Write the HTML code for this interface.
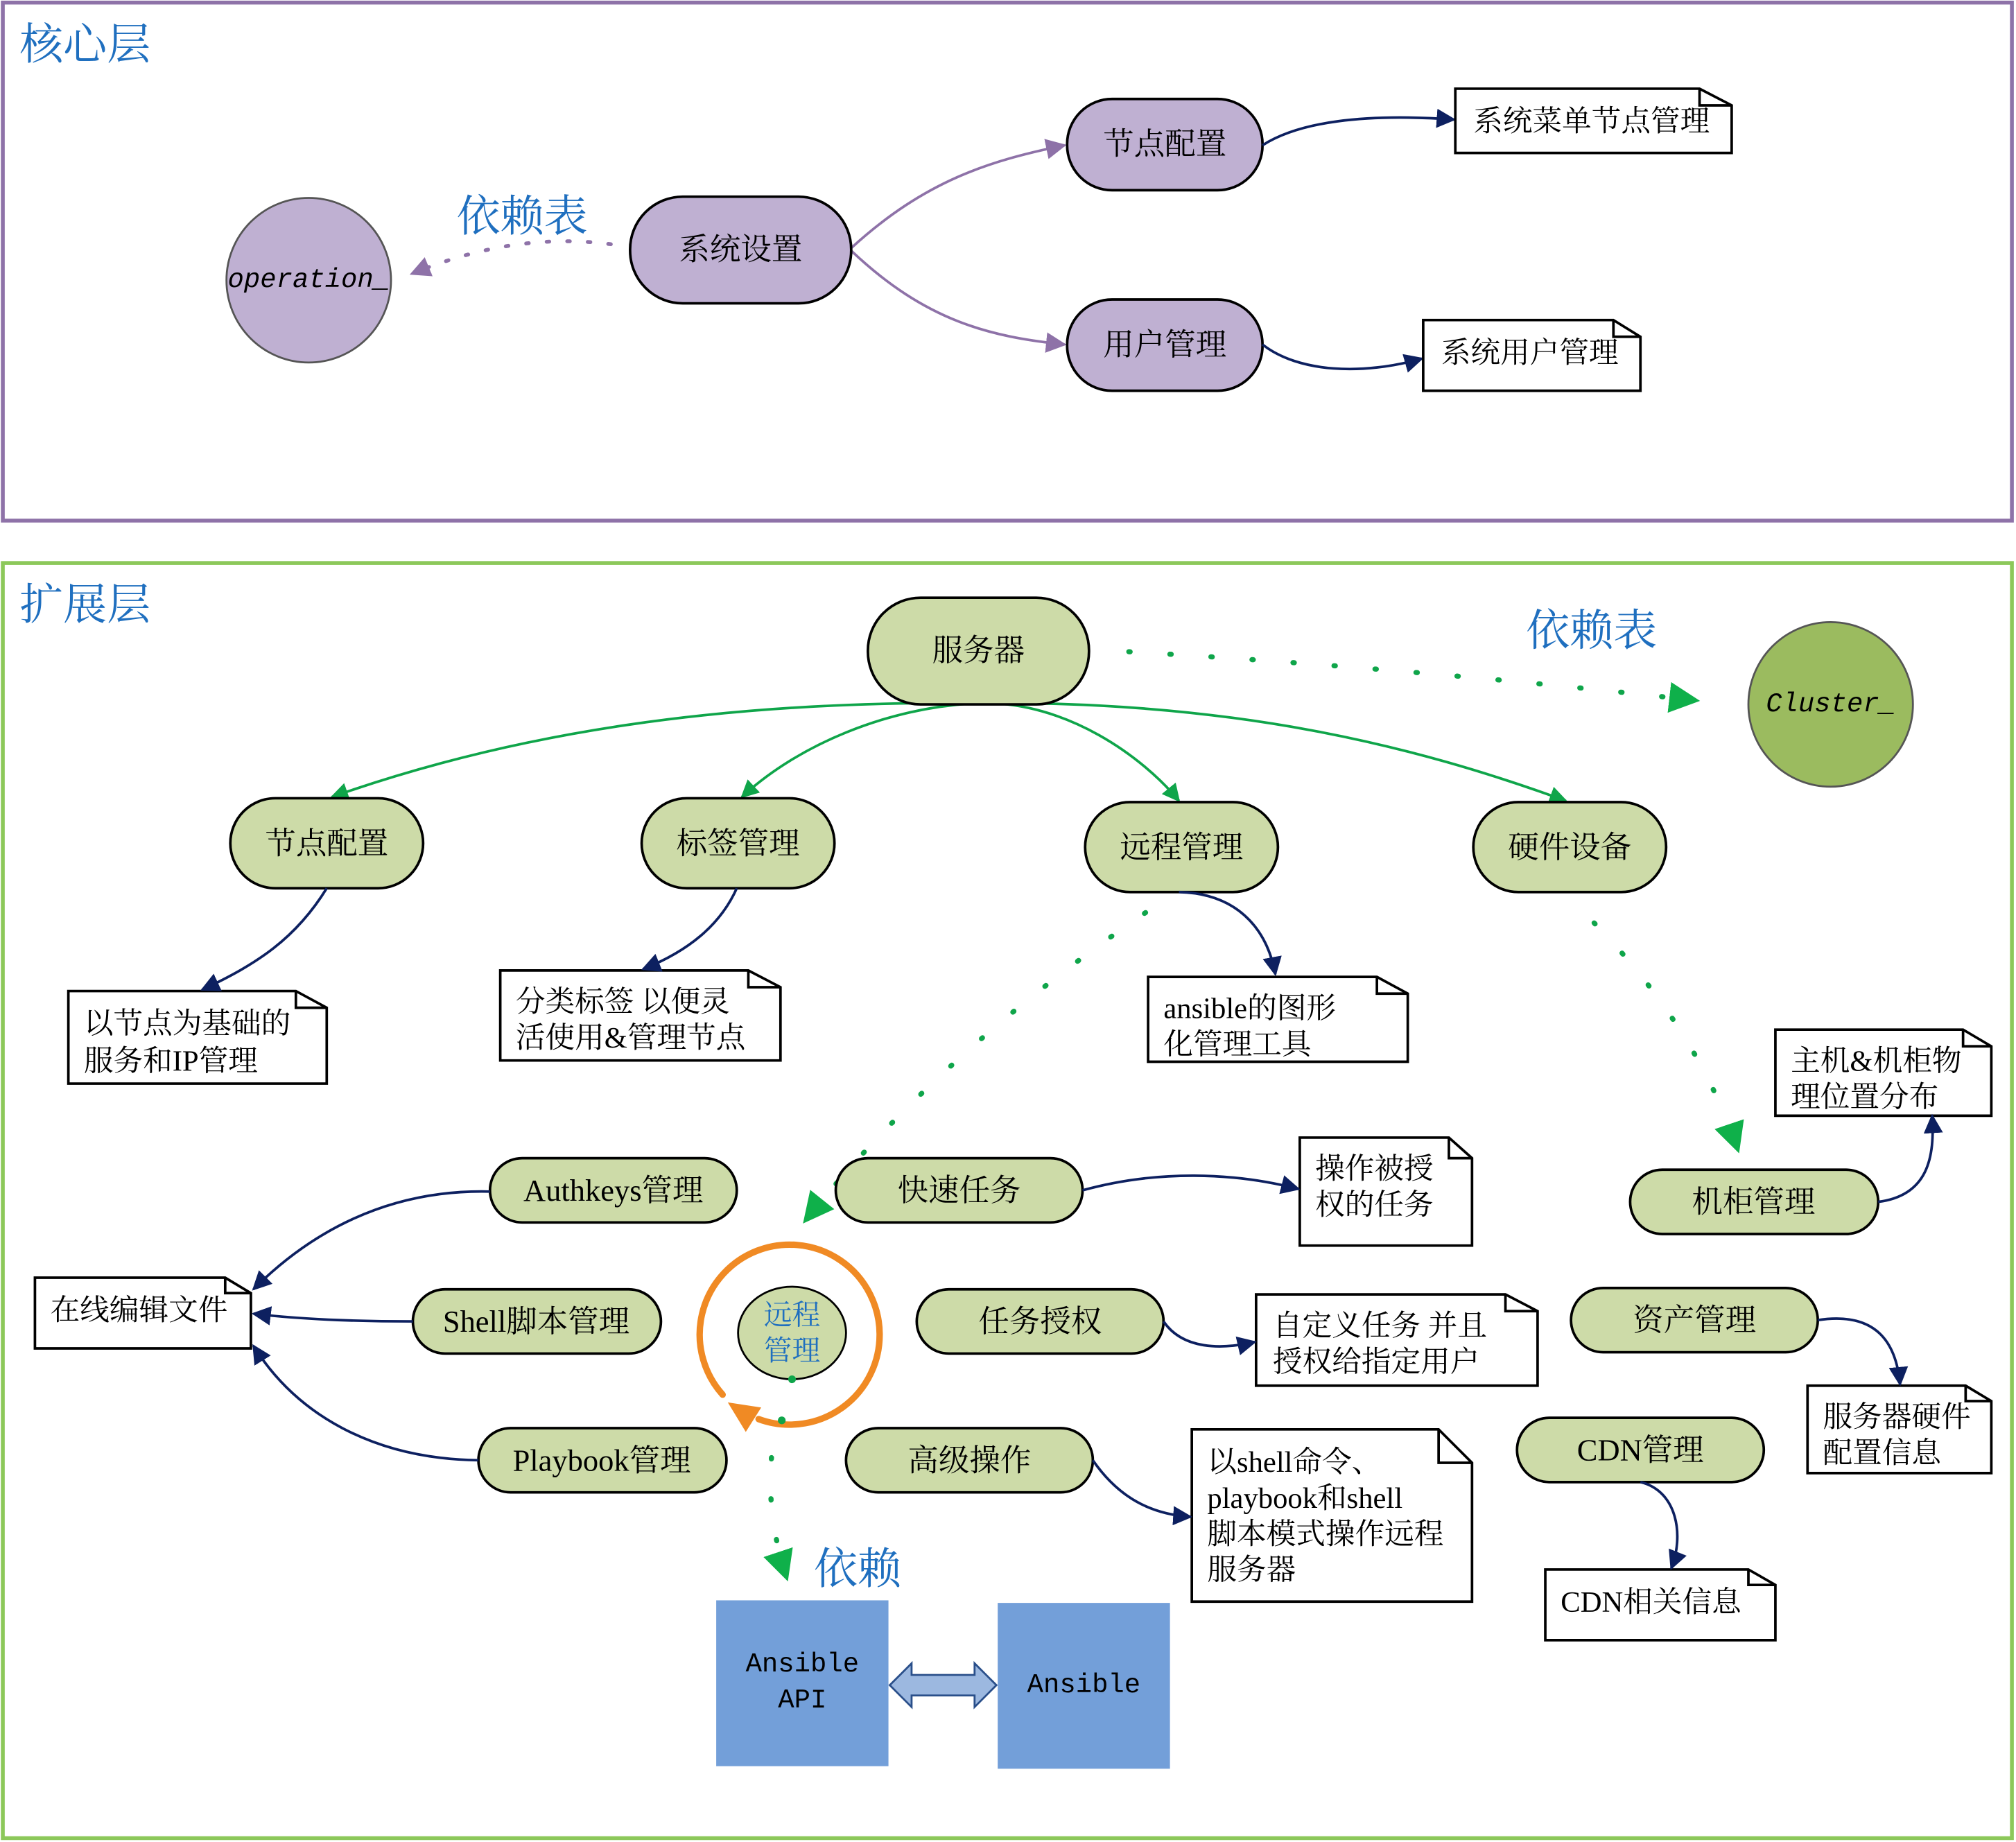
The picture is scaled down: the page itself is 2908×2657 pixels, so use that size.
<!DOCTYPE html>
<html><head><meta charset="utf-8">
<style>
html,body{margin:0;padding:0;background:#fff;}
svg{display:block;}
text{font-family:"Liberation Serif","Noto Serif CJK SC",serif;}
.t{font-size:24px;fill:#000;text-anchor:middle;dominant-baseline:central;}
.n{font-size:23px;fill:#000;}
.b{fill:#1f6fbf;font-size:34px;}
</style></head><body>
<svg width="2908" height="2657" viewBox="0 0 1568 1433" xmlns="http://www.w3.org/2000/svg">
<defs>
<marker id="nv" viewBox="0 0 10 10" refX="9" refY="5" markerWidth="15" markerHeight="15" markerUnits="userSpaceOnUse" orient="auto"><path d="M0,0 L10,5 L0,10 z" fill="#0d2060"/></marker>
<marker id="pu" viewBox="0 0 10 10" refX="9" refY="5" markerWidth="16" markerHeight="16" markerUnits="userSpaceOnUse" orient="auto"><path d="M0,0 L10,5 L0,10 z" fill="#8e72a8"/></marker>
<marker id="gr" viewBox="0 0 10 10" refX="9" refY="5" markerWidth="14" markerHeight="14" markerUnits="userSpaceOnUse" orient="auto"><path d="M0,0 L10,5 L0,10 z" fill="#0fa54a"/></marker>
<marker id="gb" viewBox="0 0 10 10" refX="9" refY="5" markerWidth="24" markerHeight="24" markerUnits="userSpaceOnUse" orient="auto"><path d="M0,0 L10,5 L0,10 z" fill="#0fb04a"/></marker>
</defs>
<g fill="none">
<rect x="2" y="2" width="1563" height="403" stroke="#8e72a8" stroke-width="3"/>
<rect x="2" y="438" width="1563" height="992" stroke="#8cc85a" stroke-width="3"/>
</g>
<text x="15" y="46" class="b">核心层</text>
<text x="15" y="482" class="b">扩展层</text>

<!-- core -->
<circle cx="240" cy="218" r="64" fill="#bfb0d2" stroke="#555" stroke-width="1.5"/>
<text x="240" y="218" class="t" style="font-style:italic;font-family:'Liberation Mono',monospace;font-size:21px">operation_</text>
<text x="355" y="180" class="b">依赖表</text>
<path d="M475,190 Q400,180 320,213" fill="none" stroke="#8e72a8" stroke-width="3" stroke-dasharray="2,14" stroke-linecap="round" marker-end="url(#pu)"/>
<g fill="none" stroke="#8e72a8" stroke-width="2">
<path d="M662,193 C720,140 770,125 828,113" marker-end="url(#pu)"/>
<path d="M662,195 C720,250 770,262 828,268" marker-end="url(#pu)"/>
</g>
<g fill="#bfb0d2" stroke="#000" stroke-width="2">
<rect x="490" y="153" width="172" height="83" rx="41"/>
<rect x="830" y="77" width="152" height="71" rx="35"/>
<rect x="830" y="233" width="152" height="71" rx="35"/>
</g>
<text x="576" y="194" class="t">系统设置</text>
<text x="906" y="112" class="t">节点配置</text>
<text x="906" y="268" class="t">用户管理</text>
<g fill="none" stroke="#0d2060" stroke-width="2">
<path d="M982,113 C1010,95 1060,88 1131,93" marker-end="url(#nv)"/>
<path d="M982,268 C1010,290 1060,292 1106,279" marker-end="url(#nv)"/>
</g>

<!-- notes -->
<g fill="#fff" stroke="#000" stroke-width="2">
<path d="M1132,69 H1322 L1347,82 V119 H1132 Z"/><path d="M1322,69 V82 H1347" fill="none"/>
<path d="M1107,249 H1255 L1276,262 V304 H1107 Z"/><path d="M1255,249 V262 H1276" fill="none"/>
<path d="M53,771 H230 L254,784 V843 H53 Z"/><path d="M230,771 V784 H254" fill="none"/>
<path d="M389,755 H582 L607,768 V825 H389 Z"/><path d="M582,755 V768 H607" fill="none"/>
<path d="M893,760 H1071 L1095,773 V826 H893 Z"/><path d="M1071,760 V773 H1095" fill="none"/>
<path d="M1381,801 H1527 L1549,814 V868 H1381 Z"/><path d="M1527,801 V814 H1549" fill="none"/>
<path d="M1011,885 H1127 L1145,901 V969 H1011 Z"/><path d="M1127,885 V901 H1145" fill="none"/>
<path d="M977,1007 H1171 L1196,1020 V1078 H977 Z"/><path d="M1171,1007 V1020 H1196" fill="none"/>
<path d="M927,1112 H1119 L1145,1138 V1246 H927 Z"/><path d="M1119,1112 V1138 H1145" fill="none"/>
<path d="M27,994 H175 L195,1006 V1049 H27 Z"/><path d="M175,994 V1006 H195" fill="none"/>
<path d="M1406,1078 H1529 L1549,1090 V1146 H1406 Z"/><path d="M1529,1078 V1090 H1549" fill="none"/>
<path d="M1202,1221 H1360 L1381,1233 V1276 H1202 Z"/><path d="M1360,1221 V1233 H1381" fill="none"/>
</g>
<text x="1146" y="102" class="n">系统菜单节点管理</text>
<text x="1121" y="282" class="n">系统用户管理</text>
<text x="65" y="804" class="n">以节点为基础的</text><text x="65" y="833" class="n">服务和IP管理</text>
<text x="401" y="787" class="n" xml:space="preserve">分类标签 以便灵</text><text x="401" y="815" class="n">活使用&amp;管理节点</text>
<text x="905" y="792" class="n">ansible的图形</text><text x="905" y="820" class="n">化管理工具</text>
<text x="1393" y="833" class="n">主机&amp;机柜物</text><text x="1393" y="861" class="n">理位置分布</text>
<text x="1023" y="917" class="n">操作被授</text><text x="1023" y="945" class="n">权的任务</text>
<text x="990" y="1039" class="n" xml:space="preserve">自定义任务 并且</text><text x="990" y="1067" class="n">授权给指定用户</text>
<text x="939" y="1145" class="n">以shell命令、</text><text x="939" y="1173" class="n">playbook和shell</text><text x="939" y="1201" class="n">脚本模式操作远程</text><text x="939" y="1229" class="n">服务器</text>
<text x="39" y="1027" class="n">在线编辑文件</text>
<text x="1418" y="1110" class="n">服务器硬件</text><text x="1418" y="1138" class="n">配置信息</text>
<text x="1214" y="1254" class="n">CDN相关信息</text>

<!-- extension -->
<circle cx="1424" cy="548" r="64" fill="#9bbb5f" stroke="#555" stroke-width="1.5"/>
<text x="1424" y="548" class="t" style="font-style:italic;font-family:'Liberation Mono',monospace;font-size:21px">Cluster_</text>
<text x="1187" y="502" class="b">依赖表</text>
<g fill="none" stroke="#0fa54a" stroke-width="4" stroke-dasharray="1,31" stroke-linecap="round">
<path d="M878,507 Q1100,520 1320,545" marker-end="url(#gb)"/>
<path d="M891,710 Q730,820 626,950" marker-end="url(#gb)"/>
<path d="M1240,718 Q1320,800 1352,895" marker-end="url(#gb)"/>
<path d="M600,1134 Q596,1180 612,1228" marker-end="url(#gb)"/>
</g>
<g fill="none" stroke="#0fa54a" stroke-width="2">
<path d="M761,547 C560,545 400,570 258,620" marker-end="url(#gr)"/>
<path d="M761,547 C690,550 620,580 577,620" marker-end="url(#gr)"/>
<path d="M761,547 C830,545 890,590 917,623" marker-end="url(#gr)"/>
<path d="M761,547 C960,545 1100,580 1218,623" marker-end="url(#gr)"/>
</g>
<g fill="#cddba8" stroke="#000" stroke-width="2">
<rect x="675" y="465" width="172" height="83" rx="41"/>
<rect x="179" y="621" width="150" height="70" rx="35"/>
<rect x="499" y="621" width="150" height="70" rx="35"/>
<rect x="844" y="624" width="150" height="70" rx="35"/>
<rect x="1146" y="624" width="150" height="70" rx="35"/>
<rect x="1268" y="910" width="193" height="50" rx="25"/>
<rect x="381" y="901" width="192" height="50" rx="25"/>
<rect x="321" y="1003" width="193" height="50" rx="25"/>
<rect x="372" y="1111" width="193" height="50" rx="25"/>
<rect x="650" y="901" width="192" height="50" rx="25"/>
<rect x="713" y="1003" width="192" height="50" rx="25"/>
<rect x="658" y="1111" width="192" height="50" rx="25"/>
<rect x="1222" y="1002" width="192" height="50" rx="25"/>
<rect x="1180" y="1103" width="192" height="50" rx="25"/>
</g>
<text x="761" y="506" class="t">服务器</text>
<text x="254" y="656" class="t">节点配置</text>
<text x="574" y="656" class="t">标签管理</text>
<text x="919" y="659" class="t">远程管理</text>
<text x="1221" y="659" class="t">硬件设备</text>
<text x="1364" y="935" class="t">机柜管理</text>
<text x="477" y="926" class="t">Authkeys管理</text>
<text x="417" y="1028" class="t">Shell脚本管理</text>
<text x="468" y="1136" class="t">Playbook管理</text>
<text x="746" y="926" class="t">快速任务</text>
<text x="809" y="1028" class="t">任务授权</text>
<text x="754" y="1136" class="t">高级操作</text>
<text x="1318" y="1027" class="t">资产管理</text>
<text x="1276" y="1128" class="t">CDN管理</text>

<g fill="none" stroke="#0d2060" stroke-width="2">
<path d="M254,691 C230,730 200,750 157,770" marker-end="url(#nv)"/>
<path d="M573,691 C560,720 535,740 500,754" marker-end="url(#nv)"/>
<path d="M917,694 C960,695 985,720 992,758" marker-end="url(#nv)"/>
<path d="M1461,935 C1500,930 1505,900 1503,868" marker-end="url(#nv)"/>
<path d="M381,927 C300,925 240,960 197,1003" marker-end="url(#nv)"/>
<path d="M321,1028 C270,1028 230,1026 197,1022" marker-end="url(#nv)"/>
<path d="M372,1136 C290,1135 230,1100 197,1047" marker-end="url(#nv)"/>
<path d="M842,926 C900,910 960,912 1010,925" marker-end="url(#nv)"/>
<path d="M905,1028 C920,1050 950,1050 976,1044" marker-end="url(#nv)"/>
<path d="M850,1136 C870,1165 895,1178 926,1180" marker-end="url(#nv)"/>
<path d="M1414,1027 C1460,1020 1475,1045 1478,1077" marker-end="url(#nv)"/>
<path d="M1276,1153 C1305,1160 1310,1195 1300,1220" marker-end="url(#nv)"/>
</g>

<path d="M562,1085 A70,70 0 1 1 590,1104" fill="none" stroke="#f08a24" stroke-width="5" stroke-linecap="round"/>
<path d="M566,1091 L592,1095 L580,1114 Z" fill="#f08a24"/>
<ellipse cx="616" cy="1037" rx="42" ry="36" fill="#cddba8" stroke="#000" stroke-width="1.5"/>
<text x="616" y="1023" class="t" style="fill:#1f6fbf;font-size:22px">远程</text>
<text x="616" y="1051" class="t" style="fill:#1f6fbf;font-size:22px">管理</text>
<circle cx="616" cy="1073" r="3" fill="#0fa54a"/>
<circle cx="608" cy="1105" r="3" fill="#0fa54a"/>
<text x="633" y="1232" class="b">依赖</text>

<rect x="557" y="1245" width="134" height="129" fill="#739fd9"/>
<rect x="776" y="1247" width="134" height="129" fill="#739fd9"/>
<text x="624" y="1295" class="t" style="font-family:'Liberation Mono',monospace;font-size:21px">Ansible</text>
<text x="624" y="1323" class="t" style="font-family:'Liberation Mono',monospace;font-size:21px">API</text>
<text x="843" y="1311" class="t" style="font-family:'Liberation Mono',monospace;font-size:21px">Ansible</text>
<path d="M692,1311 L709,1294 V1303 H758 V1294 L775,1311 L758,1328 V1319 H709 V1328 Z" fill="#9cb8e0" stroke="#2a4f8a" stroke-width="1.5"/>
</svg>
</body></html>
